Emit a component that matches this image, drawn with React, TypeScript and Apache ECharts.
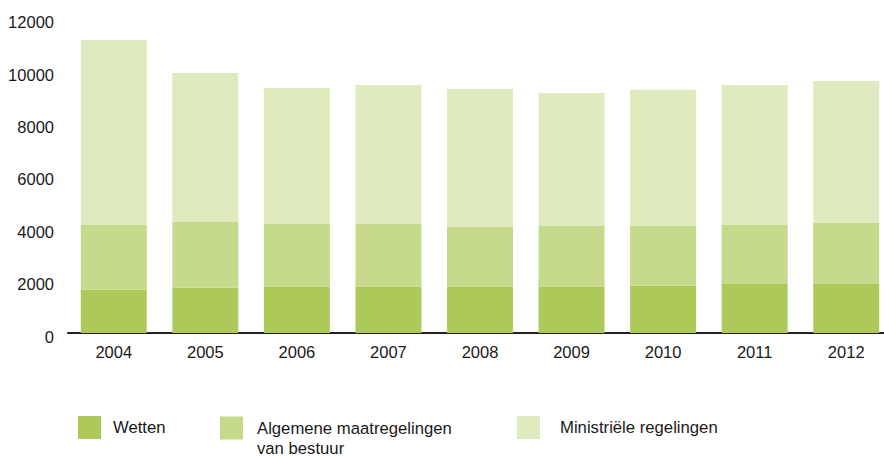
import React, { useEffect, useRef } from "react";
import * as echarts from "echarts";

const years = ["2004", "2005", "2006", "2007", "2008", "2009", "2010", "2011", "2012"];
const wetten = [1650, 1730, 1770, 1770, 1770, 1770, 1800, 1870, 1870];
const amvb = [2470, 2510, 2390, 2390, 2280, 2310, 2280, 2250, 2330];
const ministerieel = [7060, 5680, 5190, 5310, 5260, 5080, 5200, 5350, 5420];
const seriesNames = ["Wetten", "Algemene maatregelingen\nvan bestuur", "Ministriële regelingen"];
const colors = ["#adc95a", "#c5da8a", "#dfeabe"];

const FONT = "'Liberation Sans', Arial, Helvetica, sans-serif";

export default function App() {
  const ref = useRef<HTMLDivElement>(null);
  useEffect(() => {
    if (!ref.current) return;
    const chart = echarts.init(ref.current, null, { renderer: "svg" });
    const mkLegend = (i: number, left: number, top: number, gap: number, lead: boolean) => ({
      orient: "horizontal" as const,
      left,
      top,
      padding: 0,
      itemWidth: 23,
      itemHeight: 23,
      icon: "rect",
      selectedMode: false,
      data: [seriesNames[i]],
      formatter: (name: string) =>
        (lead ? "\n" : "") +
        name
          .split("\n")
          .map((l) => `{t|${l}}`)
          .join("\n"),
      textStyle: {
        fontFamily: FONT,
        fontSize: 16.7,
        color: "#1a1a1a",
        lineHeight: 20,
        rich: {
          t: { fontFamily: FONT, fontSize: 16.7, color: "#1a1a1a", lineHeight: 20, padding: [0, 0, 0, gap] },
        },
      },
    });
    chart.setOption({
      animation: false,
      textStyle: { fontFamily: FONT },
      grid: { left: 68, top: 18.6, width: 824, bottom: 123, containLabel: false, outerBoundsMode: "none" },
      legend: [mkLegend(0, 78, 416, 7, false), mkLegend(1, 220, 398, 9, true), mkLegend(2, 517, 416, 15, false)],
      xAxis: {
        type: "category",
        data: years,
        axisLine: { show: true, lineStyle: { color: "#222", width: 2 } },
        axisTick: { show: false },
        axisLabel: { fontSize: 16.5, color: "#1a1a1a", margin: 10, fontFamily: FONT },
        splitLine: { show: false },
      },
      yAxis: {
        type: "value",
        min: 0,
        max: 12000,
        interval: 2000,
        axisLine: { show: false },
        axisTick: { show: false },
        splitLine: { show: false },
        axisLabel: {
          fontSize: 16.5,
          color: "#1a1a1a",
          margin: 14,
          fontFamily: FONT,
          verticalAlign: "top",
          lineHeight: 7,
          formatter: (v: number) => String(v),
        },
      },
      series: [wetten, amvb, ministerieel].map((d, i) => ({
        name: seriesNames[i],
        type: "bar",
        stack: "total",
        data: d,
        barWidth: 66,
        itemStyle: { color: colors[i] },
      })),
    });
    return () => chart.dispose();
  }, []);
  return <div ref={ref} style={{ width: 884, height: 456, position: "absolute", left: 0, top: 0 }} />;
}
